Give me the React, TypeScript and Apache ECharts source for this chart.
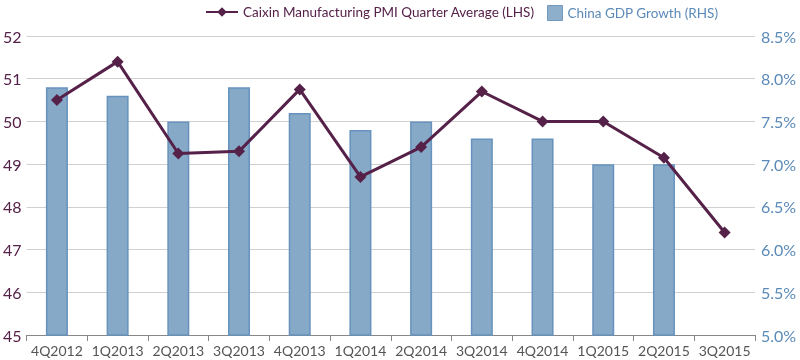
import React, { useEffect, useRef } from "react";
import * as echarts from "echarts";

const categories = ["4Q2012", "1Q2013", "2Q2013", "3Q2013", "4Q2013", "1Q2014", "2Q2014", "3Q2014", "4Q2014", "1Q2015", "2Q2015", "3Q2015"];
const pmiValues = [50.5, 51.4, 49.25, 49.3, 50.75, 48.7, 49.4, 50.7, 50.0, 50.0, 49.15, 47.4];
const gdpValues: (number | null)[] = [7.9, 7.8, 7.5, 7.9, 7.6, 7.4, 7.5, 7.3, 7.3, 7.0, 7.0, null];

const PURPLE = "#552149";
const BLUE = "#5b8ab8";
const FONT = "Lato";
const PMI_NAME = "Caixin Manufacturing PMI Quarter Average (LHS)";
const GDP_NAME = "China GDP Growth (RHS)";

export default function App() {
  const ref = useRef<HTMLDivElement>(null);
  useEffect(() => {
    const chart = echarts.init(ref.current!, null, { renderer: "svg" });
    chart.setOption({
      animation: false,
      textStyle: { fontFamily: FONT },
      legend: [
        {
          top: 0,
          left: 200,
          itemWidth: 32,
          itemHeight: 12,
          itemGap: 6,
          textStyle: { fontFamily: FONT, fontSize: 13.5, color: PURPLE },
          data: [PMI_NAME],
        },
        {
          top: 0,
          left: 542,
          itemWidth: 15,
          itemHeight: 15,
          itemGap: 6,
          textStyle: { fontFamily: FONT, fontSize: 13.5, color: BLUE },
          data: [{ name: GDP_NAME, icon: "rect", itemStyle: { color: "#8eafcc", borderColor: "#7399c0", borderWidth: 1 } }],
        },
      ],
      grid: { left: 26, right: 45, top: 36, bottom: 25 },
      xAxis: {
        type: "category",
        data: categories,
        axisLine: { lineStyle: { color: "#888", width: 1 } },
        axisTick: { show: true, lineStyle: { color: "#888" }, length: 6 },
        axisLabel: { color: "#555", fontSize: 14, fontFamily: FONT, margin: 8, interval: 0 },
      },
      yAxis: [
        {
          type: "value",
          min: 45,
          max: 52,
          interval: 1,
          axisLine: { show: false },
          axisTick: { show: false },
          axisLabel: { color: PURPLE, fontSize: 16, fontFamily: FONT, margin: 5 },
          splitLine: { lineStyle: { color: "#d0d0d0", width: 1 } },
        },
        {
          type: "value",
          min: 5,
          max: 8.5,
          interval: 0.5,
          axisLine: { show: false },
          axisTick: { show: false },
          axisLabel: {
            color: BLUE,
            fontSize: 16,
            fontFamily: FONT,
            margin: 6,
            formatter: (v: number) => v.toFixed(1) + "%",
          },
          splitLine: { show: false },
        },
      ],
      series: [
        {
          name: GDP_NAME,
          type: "bar",
          yAxisIndex: 1,
          data: gdpValues,
          barWidth: 22,
          itemStyle: { color: "#87a9c8", borderColor: "#6692bd", borderWidth: 1.5 },
        },
        {
          name: PMI_NAME,
          type: "line",
          yAxisIndex: 0,
          data: pmiValues,
          symbol: "diamond",
          symbolSize: 12,
          lineStyle: { color: PURPLE, width: 3 },
          itemStyle: { color: PURPLE },
          z: 5,
        },
      ],
    });
    return () => chart.dispose();
  }, []);
  return <div ref={ref} style={{ position: "fixed", left: 0, top: 0, width: 800, height: 360 }} />;
}
